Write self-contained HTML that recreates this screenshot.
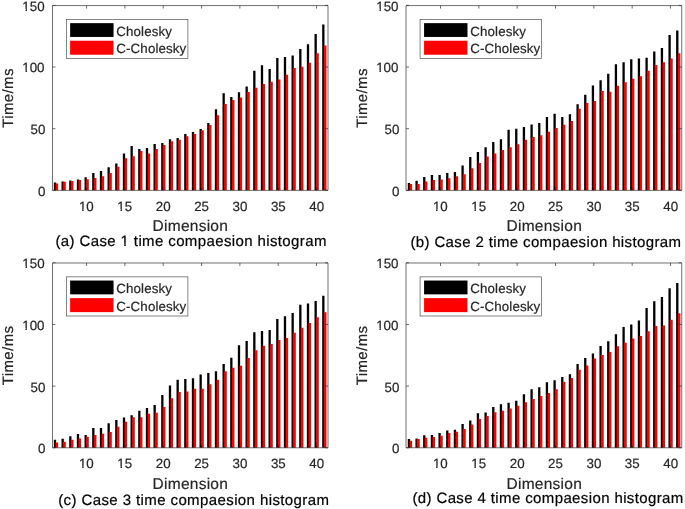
<!DOCTYPE html><html><head><meta charset="utf-8"><title>Cholesky vs C-Cholesky time comparison histograms</title><style>html,body{margin:0;padding:0;background:#fff;overflow:hidden;}svg{display:block;will-change:transform;}text{font-family:"Liberation Sans",sans-serif;text-rendering:geometricPrecision;white-space:pre;stroke-width:0.2px;}</style></head><body>
<svg width="685" height="509" viewBox="0 0 685 509">
<g><path d="M53.84 182.57H56.14V190.37H53.84ZM61.51 181.59H63.81V190.37H61.51ZM69.18 180.6H71.48V190.37H69.18ZM76.84 179.61H79.14V190.37H76.84ZM84.51 177.27H86.81V190.37H84.51ZM92.18 172.95H94.48V190.37H92.18ZM99.84 170.97H102.14V190.37H99.84ZM107.51 167.27H109.81V190.37H107.51ZM115.18 163.57H117.48V190.37H115.18ZM122.84 153.45H125.14V190.37H122.84ZM130.51 145.92H132.81V190.37H130.51ZM138.18 149.01H140.48V190.37H138.18ZM145.84 148.02H148.14V190.37H145.84ZM153.51 143.95H155.81V190.37H153.51ZM161.18 143.08H163.48V190.37H161.18ZM168.84 139.26H171.14V190.37H168.84ZM176.51 137.9H178.81V190.37H176.51ZM184.18 133.95H186.48V190.37H184.18ZM191.84 132.1H194.14V190.37H191.84ZM199.51 128.89H201.81V190.37H199.51ZM207.18 123.09H209.48V190.37H207.18ZM214.84 109.15H217.14V190.37H214.84ZM222.51 93.23H224.81V190.37H222.51ZM230.18 97.06H232.48V190.37H230.18ZM237.84 92.24H240.14V190.37H237.84ZM245.51 86.57H247.81V190.37H245.51ZM253.18 70.65H255.48V190.37H253.18ZM260.84 65.22H263.14V190.37H260.84ZM268.51 68.92H270.81V190.37H268.51ZM276.18 57.94H278.48V190.37H276.18ZM283.84 57.07H286.14V190.37H283.84ZM291.51 55.59H293.81V190.37H291.51ZM299.18 49.05H301.48V190.37H299.18ZM306.84 44.36H309.14V190.37H306.84ZM314.51 33.88H316.81V190.37H314.51ZM322.18 24.5H324.48V190.37H322.18Z" fill="#000"/><path d="M55.59 183.44H58.14V190.37H55.59ZM63.26 181.83H65.81V190.37H63.26ZM70.93 180.97H73.48V190.37H70.93ZM78.59 179.98H81.14V190.37H78.59ZM86.26 179.24H88.81V190.37H86.26ZM93.93 178.01H96.48V190.37H93.93ZM101.59 176.28H104.14V190.37H101.59ZM109.26 172.95H111.81V190.37H109.26ZM116.93 166.78H119.48V190.37H116.93ZM124.59 158.26H127.14V190.37H124.59ZM132.26 156.16H134.81V190.37H132.26ZM139.93 150.98H142.48V190.37H139.93ZM147.59 153.57H150.14V190.37H147.59ZM155.26 149.01H157.81V190.37H155.26ZM162.93 145.06H165.48V190.37H162.93ZM170.59 141.36H173.14V190.37H170.59ZM178.26 139.75H180.81V190.37H178.26ZM185.93 136.17H188.48V190.37H185.93ZM193.59 133.95H196.14V190.37H193.59ZM201.26 130.13H203.81V190.37H201.26ZM208.93 125.07H211.48V190.37H208.93ZM216.59 115.2H219.14V190.37H216.59ZM224.26 103.97H226.81V190.37H224.26ZM231.93 100.02H234.48V190.37H231.93ZM239.59 97.55H242.14V190.37H239.59ZM247.26 92H249.81V190.37H247.26ZM254.93 87.8H257.48V190.37H254.93ZM262.59 83.98H265.14V190.37H262.59ZM270.26 81.75H272.81V190.37H270.26ZM277.93 79.53H280.48V190.37H277.93ZM285.59 74.84H288.14V190.37H285.59ZM293.26 68.06H295.81V190.37H293.26ZM300.93 66.82H303.48V190.37H300.93ZM308.59 62.75H311.14V190.37H308.59ZM316.26 53.13H318.81V190.37H316.26ZM323.93 45.6H326.48V190.37H323.93Z" fill="#f00"/><path d="M52.49 5.59H328V190.37H52.49ZM86.56 190.37v-3M86.56 5.59v3M124.89 190.37v-3M124.89 5.59v3M163.23 190.37v-3M163.23 5.59v3M201.56 190.37v-3M201.56 5.59v3M239.89 190.37v-3M239.89 5.59v3M278.23 190.37v-3M278.23 5.59v3M316.56 190.37v-3M316.56 5.59v3M52.49 190.37h3M328 190.37h-3M52.49 128.7h3M328 128.7h-3M52.49 67.04h3M328 67.04h-3M52.49 5.38h3M328 5.38h-3" stroke="#262626" stroke-width="0.667" fill="none"/><text x="38.12" y="195.79" font-size="13.33" fill="#262626" stroke="#262626">0</text><text x="30.58" y="134.49" font-size="13.33" fill="#262626" stroke="#262626">50</text><text x="22.27" y="72.44" font-size="13.33" fill="#262626" stroke="#262626">100</text><path d="M22.39 70.54H25.47V73.34H22.39ZM26.95 70.54H29.93V73.34H26.95Z" fill="#fff"/><text x="22.32" y="10.59" font-size="13.33" fill="#262626" stroke="#262626">150</text><path d="M22.44 8.69H25.52V11.49H22.44ZM27 8.69H29.98V11.49H27Z" fill="#fff"/><text x="78.94" y="211.09" font-size="13.33" fill="#262626" stroke="#262626">10</text><path d="M79.05 209.19H82.13V211.99H79.05ZM83.62 209.19H86.6V211.99H83.62Z" fill="#fff"/><text x="117.29" y="211.02" font-size="13.33" fill="#262626" stroke="#262626">15</text><path d="M117.41 209.12H120.49V211.92H117.41ZM121.97 209.12H124.95V211.92H121.97Z" fill="#fff"/><text x="155.78" y="211.09" font-size="13.33" fill="#262626" stroke="#262626">20</text><text x="194.13" y="211.09" font-size="13.33" fill="#262626" stroke="#262626">25</text><text x="232.53" y="211.09" font-size="13.33" fill="#262626" stroke="#262626">30</text><text x="270.88" y="211.09" font-size="13.33" fill="#262626" stroke="#262626">35</text><text x="309.29" y="211.09" font-size="13.33" fill="#262626" stroke="#262626">40</text><text x="152.62" y="231.3" font-size="15.5" fill="#262626" stroke="#262626" letter-spacing="0.25">Dimension</text><text transform="rotate(-90)" x="-127.81" y="13" font-size="15" fill="#262626" stroke="#262626" letter-spacing="0.38">Time/ms</text><text x="55.48" y="245.55" font-size="15" fill="#000" stroke="#000" letter-spacing="0.38">(a) Case 1 time compaesion histogram</text><path d="M120.86 243.53H124.24V246.45H120.86ZM125.87 243.53H129.13V246.45H125.87Z" fill="#fff"/><rect x="66.36" y="19.48" width="121.54" height="39.12" fill="#fff" stroke="#4a4a4a" stroke-width="0.667"/><rect x="70.14" y="23.14" width="43.41" height="13.82" fill="#000"/><rect x="70.14" y="40.73" width="43.41" height="14" fill="#f00"/><text x="116.32" y="35.9" font-size="13.33" fill="#262626" stroke="#262626" letter-spacing="0.12">Cholesky</text><text x="116.32" y="53.4" font-size="13.33" fill="#262626" stroke="#262626" letter-spacing="0.12">C-Cholesky</text></g>
<g><path d="M407.78 183.07H410.08V190.37H407.78ZM415.45 180.72H417.75V190.37H415.45ZM423.12 177.02H425.42V190.37H423.12ZM430.78 174.92H433.08V190.37H430.78ZM438.45 174.92H440.75V190.37H438.45ZM446.12 172.95H448.42V190.37H446.12ZM453.78 171.96H456.08V190.37H453.78ZM461.45 165.42H463.75V190.37H461.45ZM469.12 157.03H471.42V190.37H469.12ZM476.78 151.97H479.08V190.37H476.78ZM484.45 147.28H486.75V190.37H484.45ZM492.12 141.97H494.42V190.37H492.12ZM499.78 139.26H502.08V190.37H499.78ZM507.45 129.76H509.75V190.37H507.45ZM515.12 128.65H517.42V190.37H515.12ZM522.78 126.92H525.08V190.37H522.78ZM530.45 124.57H532.75V190.37H530.45ZM538.12 123.09H540.42V190.37H538.12ZM545.78 117.05H548.08V190.37H545.78ZM553.45 113.84H555.75V190.37H553.45ZM561.12 116.92H563.42V190.37H561.12ZM568.78 114.33H571.08V190.37H568.78ZM576.45 104.34H578.75V190.37H576.45ZM584.12 94.84H586.42V190.37H584.12ZM591.78 85.46H594.08V190.37H591.78ZM599.45 80.15H601.75V190.37H599.45ZM607.12 73.86H609.42V190.37H607.12ZM614.78 64.23H617.08V190.37H614.78ZM622.45 62.26H624.75V190.37H622.45ZM630.12 59.17H632.42V190.37H630.12ZM637.78 58.43H640.08V190.37H637.78ZM645.45 57.69H647.75V190.37H645.45ZM653.12 51.4H655.42V190.37H653.12ZM660.78 48.07H663.08V190.37H660.78ZM668.45 34.99H670.75V190.37H668.45ZM676.12 30.54H678.42V190.37H676.12Z" fill="#000"/><path d="M409.53 184.05H412.08V190.37H409.53ZM417.2 184.05H419.75V190.37H417.2ZM424.87 181.59H427.42V190.37H424.87ZM432.53 179.98H435.08V190.37H432.53ZM440.2 179.61H442.75V190.37H440.2ZM447.87 178.25H450.42V190.37H447.87ZM455.53 176.28H458.08V190.37H455.53ZM463.2 174.3H465.75V190.37H463.2ZM470.87 168.13H473.42V190.37H470.87ZM478.53 162.95H481.08V190.37H478.53ZM486.2 156.54H488.75V190.37H486.2ZM493.87 153.57H496.42V190.37H493.87ZM501.53 150H504.08V190.37H501.53ZM509.2 147.28H511.75V190.37H509.2ZM516.87 144.2H519.42V190.37H516.87ZM524.53 139.75H527.08V190.37H524.53ZM532.2 137.04H534.75V190.37H532.2ZM539.87 135.19H542.42V190.37H539.87ZM547.53 131.86H550.08V190.37H547.53ZM555.2 128.03H557.75V190.37H555.2ZM562.87 124.7H565.42V190.37H562.87ZM570.53 121H573.08V190.37H570.53ZM578.2 108.78H580.75V190.37H578.2ZM585.87 103.1H588.42V190.37H585.87ZM593.53 100.88H596.08V190.37H593.53ZM601.2 90.89H603.75V190.37H601.2ZM608.87 91.75H611.42V190.37H608.87ZM616.53 85.7H619.08V190.37H616.53ZM624.2 82.25H626.75V190.37H624.2ZM631.87 78.67H634.42V190.37H631.87ZM639.53 76.33H642.08V190.37H639.53ZM647.2 70.65H649.75V190.37H647.2ZM654.87 65.1H657.42V190.37H654.87ZM662.53 62.26H665.08V190.37H662.53ZM670.2 58.43H672.75V190.37H670.2ZM677.87 53.37H680.42V190.37H677.87Z" fill="#f00"/><path d="M406.03 5.59H681.73V190.37H406.03ZM440.5 190.37v-3M440.5 5.59v3M478.83 190.37v-3M478.83 5.59v3M517.17 190.37v-3M517.17 5.59v3M555.5 190.37v-3M555.5 5.59v3M593.83 190.37v-3M593.83 5.59v3M632.17 190.37v-3M632.17 5.59v3M670.5 190.37v-3M670.5 5.59v3M406.03 190.37h3M681.73 190.37h-3M406.03 128.7h3M681.73 128.7h-3M406.03 67.04h3M681.73 67.04h-3M406.03 5.38h3M681.73 5.38h-3" stroke="#262626" stroke-width="0.667" fill="none"/><text x="392.06" y="195.79" font-size="13.33" fill="#262626" stroke="#262626">0</text><text x="384.52" y="134.49" font-size="13.33" fill="#262626" stroke="#262626">50</text><text x="376.21" y="72.44" font-size="13.33" fill="#262626" stroke="#262626">100</text><path d="M376.33 70.54H379.41V73.34H376.33ZM380.89 70.54H383.87V73.34H380.89Z" fill="#fff"/><text x="376.26" y="10.59" font-size="13.33" fill="#262626" stroke="#262626">150</text><path d="M376.38 8.69H379.46V11.49H376.38ZM380.94 8.69H383.92V11.49H380.94Z" fill="#fff"/><text x="432.88" y="211.09" font-size="13.33" fill="#262626" stroke="#262626">10</text><path d="M432.99 209.19H436.07V211.99H432.99ZM437.56 209.19H440.54V211.99H437.56Z" fill="#fff"/><text x="471.23" y="211.02" font-size="13.33" fill="#262626" stroke="#262626">15</text><path d="M471.35 209.12H474.43V211.92H471.35ZM475.91 209.12H478.89V211.92H475.91Z" fill="#fff"/><text x="509.72" y="211.09" font-size="13.33" fill="#262626" stroke="#262626">20</text><text x="548.07" y="211.09" font-size="13.33" fill="#262626" stroke="#262626">25</text><text x="586.47" y="211.09" font-size="13.33" fill="#262626" stroke="#262626">30</text><text x="624.82" y="211.09" font-size="13.33" fill="#262626" stroke="#262626">35</text><text x="663.23" y="211.09" font-size="13.33" fill="#262626" stroke="#262626">40</text><text x="506.56" y="231.3" font-size="15.5" fill="#262626" stroke="#262626" letter-spacing="0.25">Dimension</text><text transform="rotate(-90)" x="-127.81" y="366.94" font-size="15" fill="#262626" stroke="#262626" letter-spacing="0.38">Time/ms</text><text x="410.42" y="246.7" font-size="15" fill="#000" stroke="#000" letter-spacing="0.37">(b) Case 2 time compaesion histogram</text><rect x="420.07" y="19.48" width="121.54" height="39.12" fill="#fff" stroke="#4a4a4a" stroke-width="0.667"/><rect x="424.08" y="23.14" width="43.41" height="13.82" fill="#000"/><rect x="424.08" y="40.73" width="43.41" height="14" fill="#f00"/><text x="470.26" y="35.9" font-size="13.33" fill="#262626" stroke="#262626" letter-spacing="0.12">Cholesky</text><text x="470.26" y="53.4" font-size="13.33" fill="#262626" stroke="#262626" letter-spacing="0.12">C-Cholesky</text></g>
<g><path d="M53.84 439.73H56.14V447.77H53.84ZM61.51 438.74H63.81V447.77H61.51ZM69.18 436.15H71.48V447.77H69.18ZM76.84 434.05H79.14V447.77H76.84ZM84.51 434.91H86.81V447.77H84.51ZM92.18 428H94.48V447.77H92.18ZM99.84 427.88H102.14V447.77H99.84ZM107.51 423.31H109.81V447.77H107.51ZM115.18 419.98H117.48V447.77H115.18ZM122.84 417.39H125.14V447.77H122.84ZM130.51 415.17H132.81V447.77H130.51ZM138.18 410.73H140.48V447.77H138.18ZM145.84 407.89H148.14V447.77H145.84ZM153.51 405.05H155.81V447.77H153.51ZM161.18 395.06H163.48V447.77H161.18ZM168.84 385.55H171.14V447.77H168.84ZM176.51 379.63H178.81V447.77H176.51ZM184.18 379.01H186.48V447.77H184.18ZM191.84 378.27H194.14V447.77H191.84ZM199.51 374.45H201.81V447.77H199.51ZM207.18 372.97H209.48V447.77H207.18ZM214.84 371.24H217.14V447.77H214.84ZM222.51 364.08H224.81V447.77H222.51ZM230.18 357.66H232.48V447.77H230.18ZM237.84 345.32H240.14V447.77H237.84ZM245.51 340.88H247.81V447.77H245.51ZM253.18 332.24H255.48V447.77H253.18ZM260.84 331.01H263.14V447.77H260.84ZM268.51 330.02H270.81V447.77H268.51ZM276.18 318.92H278.48V447.77H276.18ZM283.84 316.33H286.14V447.77H283.84ZM291.51 312.99H293.81V447.77H291.51ZM299.18 304.85H301.48V447.77H299.18ZM306.84 303.49H309.14V447.77H306.84ZM314.51 301.02H316.81V447.77H314.51ZM322.18 295.84H324.48V447.77H322.18Z" fill="#000"/><path d="M55.59 442.56H58.14V447.77H55.59ZM63.26 441.7H65.81V447.77H63.26ZM70.93 439.73H73.48V447.77H70.93ZM78.59 438.62H81.14V447.77H78.59ZM86.26 436.76H88.81V447.77H86.26ZM93.93 435.04H96.48V447.77H93.93ZM101.59 433.68H104.14V447.77H101.59ZM109.26 431.95H111.81V447.77H109.26ZM116.93 426.77H119.48V447.77H116.93ZM124.59 421.71H127.14V447.77H124.59ZM132.26 417.14H134.81V447.77H132.26ZM139.93 417.14H142.48V447.77H139.93ZM147.59 413.81H150.14V447.77H147.59ZM155.26 412.7H157.81V447.77H155.26ZM162.93 406.9H165.48V447.77H162.93ZM170.59 398.14H173.14V447.77H170.59ZM178.26 391.97H180.81V447.77H178.26ZM185.93 391.48H188.48V447.77H185.93ZM193.59 388.76H196.14V447.77H193.59ZM201.26 388.64H203.81V447.77H201.26ZM208.93 384.32H211.48V447.77H208.93ZM216.59 379.63H219.14V447.77H216.59ZM224.26 371.24H226.81V447.77H224.26ZM231.93 367.66H234.48V447.77H231.93ZM239.59 365.81H242.14V447.77H239.59ZM247.26 357.91H249.81V447.77H247.26ZM254.93 350.26H257.48V447.77H254.93ZM262.59 345.82H265.14V447.77H262.59ZM270.26 343.97H272.81V447.77H270.26ZM277.93 339.9H280.48V447.77H277.93ZM285.59 337.92H288.14V447.77H285.59ZM293.26 332.74H295.81V447.77H293.26ZM300.93 327.68H303.48V447.77H300.93ZM308.59 322.99H311.14V447.77H308.59ZM316.26 317.31H318.81V447.77H316.26ZM323.93 312.25H326.48V447.77H323.93Z" fill="#f00"/><path d="M52.49 262.99H328V447.77H52.49ZM86.56 447.77v-3M86.56 262.99v3M124.89 447.77v-3M124.89 262.99v3M163.23 447.77v-3M163.23 262.99v3M201.56 447.77v-3M201.56 262.99v3M239.89 447.77v-3M239.89 262.99v3M278.23 447.77v-3M278.23 262.99v3M316.56 447.77v-3M316.56 262.99v3M52.49 447.77h3M328 447.77h-3M52.49 386.1h3M328 386.1h-3M52.49 324.44h3M328 324.44h-3M52.49 262.77h3M328 262.77h-3" stroke="#262626" stroke-width="0.667" fill="none"/><text x="38.12" y="453.19" font-size="13.33" fill="#262626" stroke="#262626">0</text><text x="30.58" y="391.89" font-size="13.33" fill="#262626" stroke="#262626">50</text><text x="22.27" y="329.84" font-size="13.33" fill="#262626" stroke="#262626">100</text><path d="M22.39 327.94H25.47V330.74H22.39ZM26.95 327.94H29.93V330.74H26.95Z" fill="#fff"/><text x="22.32" y="267.99" font-size="13.33" fill="#262626" stroke="#262626">150</text><path d="M22.44 266.09H25.52V268.89H22.44ZM27 266.09H29.98V268.89H27Z" fill="#fff"/><text x="78.94" y="468.49" font-size="13.33" fill="#262626" stroke="#262626">10</text><path d="M79.05 466.59H82.13V469.39H79.05ZM83.62 466.59H86.6V469.39H83.62Z" fill="#fff"/><text x="117.29" y="468.42" font-size="13.33" fill="#262626" stroke="#262626">15</text><path d="M117.41 466.52H120.49V469.32H117.41ZM121.97 466.52H124.95V469.32H121.97Z" fill="#fff"/><text x="155.78" y="468.49" font-size="13.33" fill="#262626" stroke="#262626">20</text><text x="194.13" y="468.49" font-size="13.33" fill="#262626" stroke="#262626">25</text><text x="232.53" y="468.49" font-size="13.33" fill="#262626" stroke="#262626">30</text><text x="270.88" y="468.49" font-size="13.33" fill="#262626" stroke="#262626">35</text><text x="309.29" y="468.49" font-size="13.33" fill="#262626" stroke="#262626">40</text><text x="152.62" y="488.7" font-size="15.5" fill="#262626" stroke="#262626" letter-spacing="0.25">Dimension</text><text transform="rotate(-90)" x="-385.21" y="13" font-size="15" fill="#262626" stroke="#262626" letter-spacing="0.38">Time/ms</text><text x="58.23" y="504.5" font-size="15" fill="#000" stroke="#000" letter-spacing="0.4">(c) Case 3 time compaesion histogram</text><rect x="66.36" y="276.88" width="121.54" height="39.12" fill="#fff" stroke="#4a4a4a" stroke-width="0.667"/><rect x="70.14" y="280.54" width="43.41" height="13.82" fill="#000"/><rect x="70.14" y="298.13" width="43.41" height="14" fill="#f00"/><text x="116.32" y="293.3" font-size="13.33" fill="#262626" stroke="#262626" letter-spacing="0.12">Cholesky</text><text x="116.32" y="310.8" font-size="13.33" fill="#262626" stroke="#262626" letter-spacing="0.12">C-Cholesky</text></g>
<g><path d="M407.78 439.11H410.08V447.77H407.78ZM415.45 438.49H417.75V447.77H415.45ZM423.12 435.16H425.42V447.77H423.12ZM430.78 434.91H433.08V447.77H430.78ZM438.45 433.06H440.75V447.77H438.45ZM446.12 430.47H448.42V447.77H446.12ZM453.78 429.85H456.08V447.77H453.78ZM461.45 423.93H463.75V447.77H461.45ZM469.12 420.6H471.42V447.77H469.12ZM476.78 413.32H479.08V447.77H476.78ZM484.45 412.45H486.75V447.77H484.45ZM492.12 407.02H494.42V447.77H492.12ZM499.78 404.19H502.08V447.77H499.78ZM507.45 402.83H509.75V447.77H507.45ZM515.12 400.85H517.42V447.77H515.12ZM522.78 394.19H525.08V447.77H522.78ZM530.45 389.13H532.75V447.77H530.45ZM538.12 387.28H540.42V447.77H538.12ZM545.78 382.22H548.08V447.77H545.78ZM553.45 380.25H555.75V447.77H553.45ZM561.12 376.92H563.42V447.77H561.12ZM568.78 374.2H571.08V447.77H568.78ZM576.45 364.08H578.75V447.77H576.45ZM584.12 357.91H586.42V447.77H584.12ZM591.78 353.47H594.08V447.77H591.78ZM599.45 345.94H601.75V447.77H599.45ZM607.12 341.13H609.42V447.77H607.12ZM614.78 334.34H617.08V447.77H614.78ZM622.45 327.06H624.75V447.77H622.45ZM630.12 324.59H632.42V447.77H630.12ZM637.78 320.4H640.08V447.77H637.78ZM645.45 308.06H647.75V447.77H645.45ZM653.12 301.15H655.42V447.77H653.12ZM660.78 296.95H663.08V447.77H660.78ZM668.45 288.31H670.75V447.77H668.45ZM676.12 282.88H678.42V447.77H676.12Z" fill="#000"/><path d="M409.53 440.71H412.08V447.77H409.53ZM417.2 439.11H419.75V447.77H417.2ZM424.87 437.87H427.42V447.77H424.87ZM432.53 436.89H435.08V447.77H432.53ZM440.2 435.65H442.75V447.77H440.2ZM447.87 433.06H450.42V447.77H447.87ZM455.53 431.83H458.08V447.77H455.53ZM463.2 428.99H465.75V447.77H463.2ZM470.87 424.42H473.42V447.77H470.87ZM478.53 418.99H481.08V447.77H478.53ZM486.2 416.03H488.75V447.77H486.2ZM493.87 412.21H496.42V447.77H493.87ZM501.53 410.85H504.08V447.77H501.53ZM509.2 408.51H511.75V447.77H509.2ZM516.87 405.67H519.42V447.77H516.87ZM524.53 402.21H527.08V447.77H524.53ZM532.2 398.88H534.75V447.77H532.2ZM539.87 396.04H542.42V447.77H539.87ZM547.53 393.08H550.08V447.77H547.53ZM555.2 389.26H557.75V447.77H555.2ZM562.87 381.73H565.42V447.77H562.87ZM570.53 377.9H573.08V447.77H570.53ZM578.2 369.76H580.75V447.77H578.2ZM585.87 365.44H588.42V447.77H585.87ZM593.53 358.41H596.08V447.77H593.53ZM601.2 355.07H603.75V447.77H601.2ZM608.87 352.11H611.42V447.77H608.87ZM616.53 346.19H619.08V447.77H616.53ZM624.2 342.86H626.75V447.77H624.2ZM631.87 338.41H634.42V447.77H631.87ZM639.53 335.95H642.08V447.77H639.53ZM647.2 331.26H649.75V447.77H647.2ZM654.87 325.95H657.42V447.77H654.87ZM662.53 325.46H665.08V447.77H662.53ZM670.2 319.78H672.75V447.77H670.2ZM677.87 313.24H680.42V447.77H677.87Z" fill="#f00"/><path d="M406.03 262.99H681.73V447.77H406.03ZM440.5 447.77v-3M440.5 262.99v3M478.83 447.77v-3M478.83 262.99v3M517.17 447.77v-3M517.17 262.99v3M555.5 447.77v-3M555.5 262.99v3M593.83 447.77v-3M593.83 262.99v3M632.17 447.77v-3M632.17 262.99v3M670.5 447.77v-3M670.5 262.99v3M406.03 447.77h3M681.73 447.77h-3M406.03 386.1h3M681.73 386.1h-3M406.03 324.44h3M681.73 324.44h-3M406.03 262.77h3M681.73 262.77h-3" stroke="#262626" stroke-width="0.667" fill="none"/><text x="392.06" y="453.19" font-size="13.33" fill="#262626" stroke="#262626">0</text><text x="384.52" y="391.89" font-size="13.33" fill="#262626" stroke="#262626">50</text><text x="376.21" y="329.84" font-size="13.33" fill="#262626" stroke="#262626">100</text><path d="M376.33 327.94H379.41V330.74H376.33ZM380.89 327.94H383.87V330.74H380.89Z" fill="#fff"/><text x="376.26" y="267.99" font-size="13.33" fill="#262626" stroke="#262626">150</text><path d="M376.38 266.09H379.46V268.89H376.38ZM380.94 266.09H383.92V268.89H380.94Z" fill="#fff"/><text x="432.88" y="468.49" font-size="13.33" fill="#262626" stroke="#262626">10</text><path d="M432.99 466.59H436.07V469.39H432.99ZM437.56 466.59H440.54V469.39H437.56Z" fill="#fff"/><text x="471.23" y="468.42" font-size="13.33" fill="#262626" stroke="#262626">15</text><path d="M471.35 466.52H474.43V469.32H471.35ZM475.91 466.52H478.89V469.32H475.91Z" fill="#fff"/><text x="509.72" y="468.49" font-size="13.33" fill="#262626" stroke="#262626">20</text><text x="548.07" y="468.49" font-size="13.33" fill="#262626" stroke="#262626">25</text><text x="586.47" y="468.49" font-size="13.33" fill="#262626" stroke="#262626">30</text><text x="624.82" y="468.49" font-size="13.33" fill="#262626" stroke="#262626">35</text><text x="663.23" y="468.49" font-size="13.33" fill="#262626" stroke="#262626">40</text><text x="506.56" y="488.7" font-size="15.5" fill="#262626" stroke="#262626" letter-spacing="0.25">Dimension</text><text transform="rotate(-90)" x="-385.21" y="366.94" font-size="15" fill="#262626" stroke="#262626" letter-spacing="0.38">Time/ms</text><text x="412.42" y="503.4" font-size="15" fill="#000" stroke="#000" letter-spacing="0.38">(d) Case 4 time compaesion histogram</text><rect x="420.07" y="276.88" width="121.54" height="39.12" fill="#fff" stroke="#4a4a4a" stroke-width="0.667"/><rect x="424.08" y="280.54" width="43.41" height="13.82" fill="#000"/><rect x="424.08" y="298.13" width="43.41" height="14" fill="#f00"/><text x="470.26" y="293.3" font-size="13.33" fill="#262626" stroke="#262626" letter-spacing="0.12">Cholesky</text><text x="470.26" y="310.8" font-size="13.33" fill="#262626" stroke="#262626" letter-spacing="0.12">C-Cholesky</text></g>
</svg></body></html>
